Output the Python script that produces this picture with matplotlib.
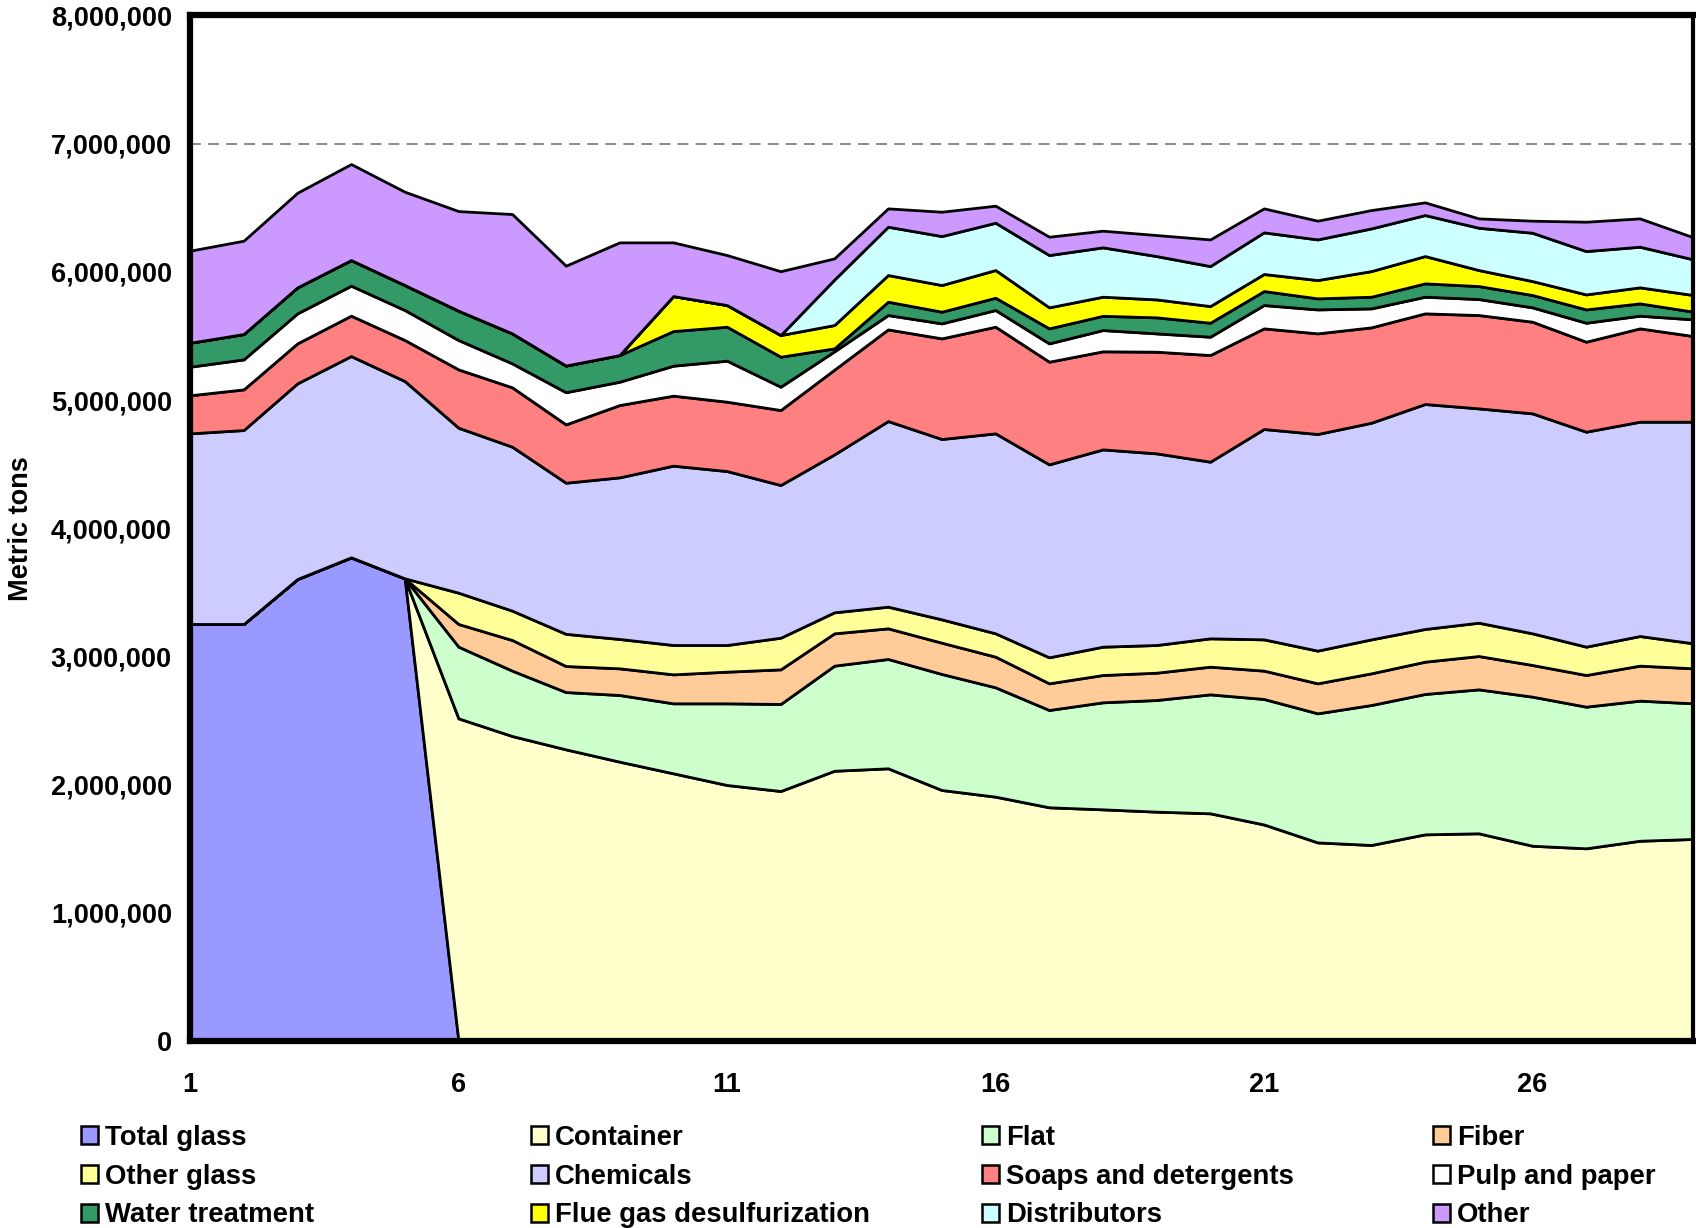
import matplotlib
matplotlib.use("Agg")
import matplotlib.pyplot as plt
import matplotlib.ticker as mticker
from matplotlib.patches import Patch
import numpy as np

plt.rcParams['font.family'] = ['Liberation Sans', 'DejaVu Sans']
plt.rcParams['font.weight'] = 'bold'

# ---- data (thousand metric tons) ----
periods = list(range(1, 30))
total_glass = [3253, 3253, 3604, 3773, 3609] + [0] * 24
container = [0] * 5 + [2517, 2379, 2275, 2179, 2088, 1997, 1950, 2108, 2127, 1958, 1906, 1823,
                       1807, 1789, 1776, 1689, 1549, 1529, 1612, 1620, 1523, 1503, 1562, 1576]
flat = [0] * 5 + [559, 510, 447, 520, 546, 637, 679, 820, 853, 905, 853, 759,
                  835, 871, 928, 979, 1007, 1092, 1095, 1123, 1163, 1105, 1093, 1058]
fiber = [0] * 5 + [177, 239, 203, 208, 226, 247, 270, 252, 239, 244, 239, 208,
                   213, 213, 216, 221, 234, 247, 252, 260, 247, 247, 273, 273]
other_glass = [0] * 5 + [244, 229, 251, 229, 229, 208, 247, 164, 169, 182, 182, 203,
                         221, 216, 221, 244, 255, 265, 255, 260, 247, 221, 231, 195]
chemicals = [1487, 1513, 1526, 1570, 1539, 1287, 1279, 1179, 1261, 1399, 1357, 1191, 1232, 1448,
             1407, 1560, 1505, 1539, 1495, 1378, 1641, 1690, 1690, 1755, 1672, 1716, 1677, 1672, 1729]
soaps = [297, 317, 312, 315, 320, 455, 463, 455, 564, 546, 541, 585, 661, 715, 785,
         832, 801, 765, 793, 832, 785, 785, 744, 707, 728, 715, 702, 728, 668]
pulp = [223, 234, 234, 234, 234, 229, 187, 251, 182, 234, 320, 182, 143, 112, 117,
        130, 143, 166, 143, 143, 182, 187, 148, 130, 125, 112, 148, 99, 130]
water = [187, 198, 203, 200, 195, 229, 234, 208, 208, 270, 265, 234, 23, 104, 91,
         96, 117, 111, 125, 109, 109, 86, 91, 104, 101, 96, 104, 96, 60]
flue_gas = [0] * 9 + [273, 169, 169, 182, 208, 208, 216, 164, 149, 140, 130,
                      133, 143, 200, 213, 125, 109, 117, 125, 130]
distributors = [0] * 12 + [355, 377, 382, 369, 408, 385, 338, 312, 325, 317,
                           333, 320, 330, 377, 338, 317, 278]
other = [718, 728, 738, 749, 728, 777, 931, 779, 879, 419, 390, 498, 165, 143, 190,
         133, 143, 130, 164, 208, 187, 146, 143, 99, 73, 94, 229, 221, 172]

labels = ["Total glass", "Container", "Flat", "Fiber", "Other glass", "Chemicals",
          "Soaps and detergents", "Pulp and paper", "Water treatment",
          "Flue gas desulfurization", "Distributors", "Other"]
colors = ["#9999FF", "#FFFFCC", "#CCFFCC", "#FFCC99", "#FFFF99", "#CCCCFF",
          "#FF8080", "#FFFFFF", "#339966", "#FFFF00", "#CCFFFF", "#CC99FF"]
series = [total_glass, container, flat, fiber, other_glass, chemicals, soaps, pulp,
          water, flue_gas, distributors, other]

ytick_vals = [0, 1000000, 2000000, 3000000, 4000000, 5000000, 6000000, 7000000, 8000000]
xtick_vals = [1, 6, 11, 16, 21, 26]

# ---- figure ----
fig = plt.figure(figsize=(16.96, 12.28), dpi=100)
ax = fig.add_axes([0.112, 0.1523, 0.8865, 0.8351])

ys = [np.array(s, dtype=float) * 1000 for s in series]
ax.stackplot(periods, *ys, colors=colors, edgecolor='black', linewidth=2.0,
             labels=labels, zorder=2)

ax.set_xlim(1, 29)
ax.set_ylim(0, 8000000)
ax.set_yticks(ytick_vals)
ax.yaxis.set_major_formatter(mticker.FuncFormatter(lambda v, p: f"{int(v):,}"))
ax.set_xticks(xtick_vals)
ax.tick_params(axis='both', length=0, labelsize=19.5)
ax.tick_params(axis='y', pad=13)
ax.tick_params(axis='x', pad=22)
for lab in ax.get_xticklabels() + ax.get_yticklabels():
    lab.set_fontweight('bold')

ax.yaxis.grid(True, linestyle=(0, (6, 4)), color='#808080', linewidth=1.3, zorder=0)
ax.set_axisbelow(True)

for side in ['left', 'top', 'bottom']:
    ax.spines[side].set_linewidth(4.5)
    ax.spines[side].set_zorder(5)
ax.spines['right'].set_linewidth(3)
ax.spines['right'].set_zorder(5)

ax.set_ylabel("Metric tons", fontsize=19.5, fontweight='bold')
ax.yaxis.set_label_coords(-0.104, 0.5)

# ---- legend: 4 columns x 3 rows, read row-wise ----
handles = [Patch(facecolor=c, edgecolor='black', linewidth=1.8) for c in colors]
col_x = [80, 530, 981, 1432]
W, H = 1696, 1228
for ci in range(4):
    idx = [ci, ci + 4, ci + 8]
    leg = fig.legend([handles[i] for i in idx], [labels[i] for i in idx],
                     loc='upper left', bbox_to_anchor=(col_x[ci] / W + 0.0005, 1 - 1125 / H),
                     frameon=False, prop={'weight': 'bold', 'size': 19.8},
                     handlelength=0.62, handleheight=0.62, handletextpad=0.25,
                     labelspacing=0.46, borderpad=0, borderaxespad=0)

fig.savefig("out.png", dpi=100)
